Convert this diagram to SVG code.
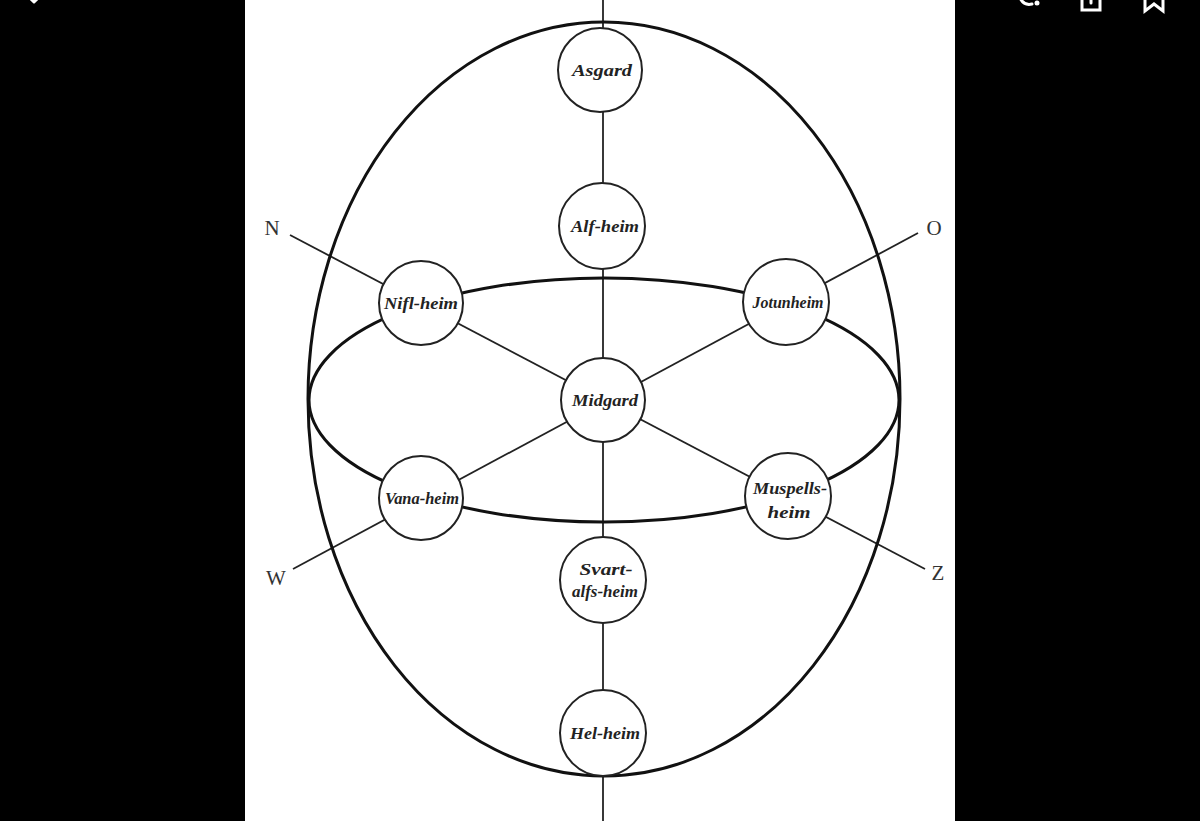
<svg xmlns="http://www.w3.org/2000/svg" width="1200" height="821" viewBox="0 0 1200 821">
<style>
.ring{fill:none;stroke:#111;stroke-width:3}
.link{stroke:#222;stroke-width:1.8;fill:none}
.node circle{fill:#fff;stroke:#222;stroke-width:2}
.node text{font-family:"Liberation Serif",serif;font-style:italic;font-weight:bold;font-size:16px;fill:#222;text-anchor:middle}
.dir{font-family:"Liberation Serif",serif;font-size:21px;fill:#333;text-anchor:middle}
.ui{stroke:#fff;stroke-width:3;fill:none;stroke-linecap:round}
</style>
<rect x="0" y="0" width="1200" height="821" fill="#000"/>
<rect x="245" y="0" width="710" height="821" fill="#fff"/>
<g id="ui-icons">
<path class="ui" d="M28 -4 L34 2 M40 -4 L34 2"/>
<path class="ui" d="M1020 -2 Q1024 6 1032 4"/>
<circle cx="1037" cy="3" r="2.5" fill="#fff"/>
<path class="ui" d="M1082 -2 V10 H1100 V-2 M1091 -2 V3"/>
<path class="ui" d="M1145 -2 V11 L1154 4 L1163 11 V-2"/>
</g>
<g id="connectors">
<line class="link" x1="603" y1="0" x2="603" y2="821"/>
<line class="link" x1="290" y1="235" x2="925" y2="569"/>
<line class="link" x1="918" y1="233" x2="293" y2="569"/>
<ellipse class="ring" cx="604" cy="399" rx="296" ry="377"/>
<ellipse class="ring" cx="604" cy="400" rx="295" ry="122"/>
</g>
<g id="asgard" class="node"><circle cx="600" cy="70" r="42"/><text x="602" y="76" textLength="60" lengthAdjust="spacingAndGlyphs">Asgard</text></g>
<g id="alfheim" class="node"><circle cx="602" cy="226" r="43"/><text x="605" y="232" textLength="68" lengthAdjust="spacingAndGlyphs">Alf-heim</text></g>
<g id="niflheim" class="node"><circle cx="421" cy="303" r="42"/><text x="421" y="309" textLength="74" lengthAdjust="spacingAndGlyphs">Nifl-heim</text></g>
<g id="jotunheim" class="node"><circle cx="786" cy="302" r="43"/><text x="788" y="308" textLength="71" lengthAdjust="spacingAndGlyphs">Jotunheim</text></g>
<g id="midgard" class="node"><circle cx="603" cy="400" r="42"/><text x="605" y="406" textLength="66" lengthAdjust="spacingAndGlyphs">Midgard</text></g>
<g id="vanaheim" class="node"><circle cx="421" cy="498" r="42"/><text x="422" y="504" textLength="74" lengthAdjust="spacingAndGlyphs">Vana-heim</text></g>
<g id="muspellsheim" class="node"><circle cx="788" cy="496" r="43"/><text x="790" y="494" textLength="74" lengthAdjust="spacingAndGlyphs">Muspells-</text><text x="789" y="518" textLength="43" lengthAdjust="spacingAndGlyphs">heim</text></g>
<g id="svartalfsheim" class="node"><circle cx="603" cy="580" r="43"/><text x="606" y="575" textLength="53" lengthAdjust="spacingAndGlyphs">Svart-</text><text x="605" y="597" textLength="66" lengthAdjust="spacingAndGlyphs">alfs-heim</text></g>
<g id="helheim" class="node"><circle cx="603" cy="733" r="43"/><text x="605" y="739" textLength="70" lengthAdjust="spacingAndGlyphs">Hel-heim</text></g>
<g id="directions">
<text class="dir" x="272" y="235">N</text>
<text class="dir" x="934" y="235">O</text>
<text class="dir" x="276" y="585">W</text>
<text class="dir" x="938" y="580">Z</text>
</g>
</svg>
